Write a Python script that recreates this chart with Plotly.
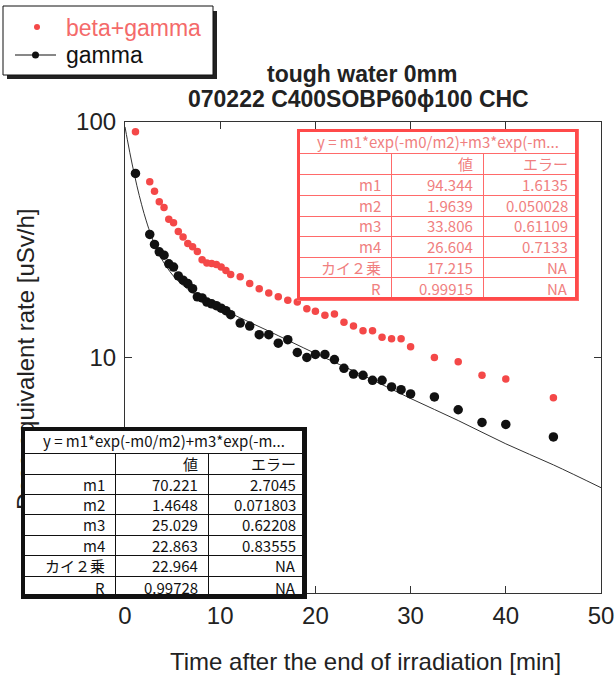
import plotly.graph_objects as go

# ---------------- data ----------------
time_min = [1.1, 2.6, 3.1, 3.6, 4.1, 4.6, 5.1, 5.6, 6.1, 6.6, 7.1, 7.6, 8.1, 8.6, 9.1,
            9.6, 10.1, 10.6, 11.1, 12.1, 13.1, 14.1, 15.1, 16.1, 17.1, 18.1, 19.1, 20.0,
            21.0, 22.0, 23.0, 24.0, 25.0, 26.0, 27.0, 28.0, 29.0, 30.0, 32.5, 35.0,
            37.5, 40.0, 45.0]
beta_gamma = [91.0, 55.7, 50.8, 45.8, 43.3, 38.6, 37.3, 34.3, 32.5, 30.5, 29.5, 28.2,
              26.0, 25.2, 25.1, 24.8, 24.2, 23.4, 22.5, 22.0, 20.6, 19.6, 18.8, 18.1,
              17.5, 17.2, 16.1, 15.7, 15.1, 15.3, 14.1, 13.6, 13.0, 13.0, 12.2, 12.0,
              12.0, 11.1, 10.0, 9.6, 8.4, 8.1, 6.75]
gamma = [60.5, 33.3, 30.2, 28.1, 27.2, 25.0, 24.2, 22.2, 21.3, 20.6, 19.6, 18.1, 17.9,
         17.2, 16.9, 16.6, 16.2, 15.8, 15.2, 14.0, 13.6, 12.5, 12.5, 11.5, 11.9, 10.5,
         10.0, 10.3, 10.3, 9.8, 9.0, 8.5, 8.4, 8.0, 8.0, 7.5, 7.3, 7.0, 6.8, 6.0, 5.3,
         5.2, 4.6]
# fitted curve (gamma)
fit_time = [0, 0.25, 0.5, 0.75, 1, 1.25, 1.5, 1.75, 2, 2.5, 3, 3.5, 4, 5, 6, 7, 8, 10,
            12, 15, 20, 25, 30, 35, 40, 45, 50]
fit_rate = [95.3, 84.0, 74.4, 66.3, 59.5, 53.6, 48.7, 44.5, 40.9, 35.2, 31.0, 27.9, 25.6,
            22.4, 20.4, 19.0, 17.9, 16.2, 14.8, 13.0, 10.4, 8.4, 6.7, 5.4, 4.3, 3.5, 2.8]

x_ticks = [0, 10, 20, 30, 40, 50]
y_ticks = [10, 100]
y_tick_text = ["10", "100"]

series_names = ["beta+gamma", "gamma"]

fit_equation = "y = m1*exp(-m0/m2)+m3*exp(-m..."
table_head = ["", "値", "エラー"]
param_names = ["m1", "m2", "m3", "m4", "カイ２乗", "R"]
beta_values = ["94.344", "1.9639", "33.806", "26.604", "17.215", "0.99915"]
beta_errors = ["1.6135", "0.050028", "0.61109", "0.7133", "NA", "NA"]
gamma_values = ["70.221", "1.4648", "25.029", "22.863", "22.964", "0.99728"]
gamma_errors = ["2.7045", "0.071803", "0.62208", "0.83555", "NA", "NA"]

title_line1 = "tough water 0mm"
title_line2 = "070222 C400SOBP60ϕ100 CHC"
x_title = "Time after the end of irradiation [min]"
y_title = "Dose equivalent rate [uSv/h]"

# ---------------- layout geometry ----------------
W, H = 615, 678
L, R, T, B = 125, 14, 122, 85
PW, PH = W - L - R, H - T - B


def px2x(px):
    return (px - L) / PW


def py2y(py):
    return (H - B - py) / PH


SANS = "Liberation Sans, Arial, sans-serif"
JP = "Noto Sans CJK JP, sans-serif"
RED = "#f44848"
BLACK = "#111111"

fig = go.Figure()

fig.add_trace(go.Scatter(x=fit_time, y=fit_rate, mode="lines", name="fit",
                         line=dict(color="#333333", width=1, shape="spline"),
                         showlegend=False, hoverinfo="skip"))
fig.add_trace(go.Scatter(x=time_min, y=beta_gamma, mode="markers", name=series_names[0],
                         marker=dict(color=RED, size=7.5), showlegend=False))
fig.add_trace(go.Scatter(x=time_min, y=gamma, mode="markers", name=series_names[1],
                         marker=dict(color=BLACK, size=9.5), showlegend=False))

annotations = []

# title
annotations.append(dict(text="<b>" + title_line1 + "</b>", x=px2x(362), y=py2y(74), xref="paper", yref="paper",
                         showarrow=False, xanchor="center", yanchor="middle",
                         font=dict(family=SANS, size=23, color="#222222")))
annotations.append(dict(text="<b>" + title_line2 + "</b>", x=px2x(358), y=py2y(99), xref="paper", yref="paper",
                         showarrow=False, xanchor="center", yanchor="middle",
                         font=dict(family=SANS, size=23, color="#222222")))
# axis titles
annotations.append(dict(text=x_title, x=px2x(365), y=py2y(661), xref="paper", yref="paper",
                         showarrow=False, xanchor="center", yanchor="middle",
                         font=dict(family=SANS, size=24, color="#222222")))
annotations.append(dict(text=y_title, x=px2x(25), y=py2y(359), xref="paper", yref="paper",
                         showarrow=False, xanchor="center", yanchor="middle", textangle=-90,
                         font=dict(family=SANS, size=24, color="#222222")))
# legend texts
annotations.append(dict(text=series_names[0], x=px2x(64), y=py2y(28), xref="paper", yref="paper",
                         showarrow=False, xanchor="left", yanchor="middle",
                         font=dict(family=SANS, size=23, color="#f46a6a")))
annotations.append(dict(text=series_names[1], x=px2x(64), y=py2y(55), xref="paper", yref="paper",
                         showarrow=False, xanchor="left", yanchor="middle",
                         font=dict(family=SANS, size=23, color=BLACK)))


def box(x0, y0, x1, y1, bw, color, bg):
    return dict(text=" ", showarrow=False, xref="paper", yref="paper",
                x=px2x(x0), y=py2y(y0), xanchor="left", yanchor="top",
                width=max(x1 - x0 - 2 * bw, 1), height=max(y1 - y0 - 2 * bw, 1),
                borderpad=0, borderwidth=bw, bordercolor=color, bgcolor=bg)


def label(text, xr, yc, color, anchor="right"):
    return dict(text=text, showarrow=False, xref="paper", yref="paper",
                x=px2x(xr), y=py2y(yc), xanchor=anchor, yanchor="middle",
                font=dict(family=JP, size=15, color=color))


def table(cols, rows, names, values, errors, line_col, outer_col, outer_w, text_col, bg):
    out = [box(cols[0], rows[0], cols[-1], rows[-1], 1, outer_col, bg)]
    out.append(box(cols[0], rows[0], cols[-1] + 1, rows[1] + 1, 1, line_col, bg))
    for r in range(1, len(rows) - 1):
        for c in range(3):
            out.append(box(cols[c], rows[r], cols[c + 1] + 1, rows[r + 1] + 1, 1, line_col, bg))
    out.append(box(cols[0], rows[0], cols[-1], rows[-1], outer_w, outer_col, "rgba(0,0,0,0)"))
    out.append(label(fit_equation, (cols[0] + cols[-1]) / 2, (rows[0] + rows[1]) / 2, text_col, "center"))
    for c in range(3):
        out.append(label(table_head[c], cols[c + 1] - 8, (rows[1] + rows[2]) / 2, text_col))
    for i in range(len(names)):
        yc = (rows[i + 2] + rows[i + 3]) / 2
        out.append(label(names[i], cols[1] - 8, yc, text_col))
        out.append(label(values[i], cols[2] - 8, yc, text_col))
        out.append(label(errors[i], cols[3] - 8, yc, text_col))
    return out


annotations += table([297, 391, 483, 578], [129, 153, 174, 195, 216, 236, 257, 277, 300],
                     param_names, beta_values, beta_errors,
                     "#ff6a6a", "#ff4a4a", 3, "#f08080", "white")
annotations += table([21, 115, 208, 306], [427, 453, 474, 494, 514, 535, 555, 576, 598],
                     param_names, gamma_values, gamma_errors,
                     BLACK, BLACK, 4, BLACK, "white")


def pshape(kind, x0, y0, x1, y1, **kw):
    return dict(type=kind, xref="paper", yref="paper", x0=px2x(x0), x1=px2x(x1),
                y0=py2y(y0), y1=py2y(y1), layer="above", **kw)


shapes = [
    # legend frame with drop shadow
    pshape("rect", 7, 11, 217, 79, fillcolor="#222222", line=dict(width=0)),
    pshape("rect", 3, 6, 213, 75, fillcolor="white", line=dict(color=BLACK, width=1)),
    # legend symbols
    pshape("circle", 34, 24, 40, 30, fillcolor=RED, line=dict(width=0)),
    pshape("line", 15, 55, 56, 55, line=dict(color=BLACK, width=1)),
    pshape("circle", 32, 51.5, 39, 58.5, fillcolor=BLACK, line=dict(width=0)),
]

axis_common = dict(showline=True, linecolor="#333333", linewidth=1.2, mirror="ticks", ticks="inside",
                   ticklen=7, tickwidth=1, tickcolor="#333333", showgrid=False, zeroline=False,
                   tickfont=dict(family=SANS, size=24, color="#222222"))

fig.update_layout(
    width=W, height=H,
    margin=dict(l=L, r=R, t=T, b=B, autoexpand=False),
    paper_bgcolor="white", plot_bgcolor="white",
    showlegend=False,
    xaxis=dict(range=[0, 50], tickvals=x_ticks, ticklabelstandoff=1, **axis_common),
    yaxis=dict(type="log", range=[0, 2], tickvals=y_ticks, ticktext=y_tick_text,
               ticklabelstandoff=3, **axis_common),
    annotations=annotations,
    shapes=shapes,
)

fig.write_html("out.html")
